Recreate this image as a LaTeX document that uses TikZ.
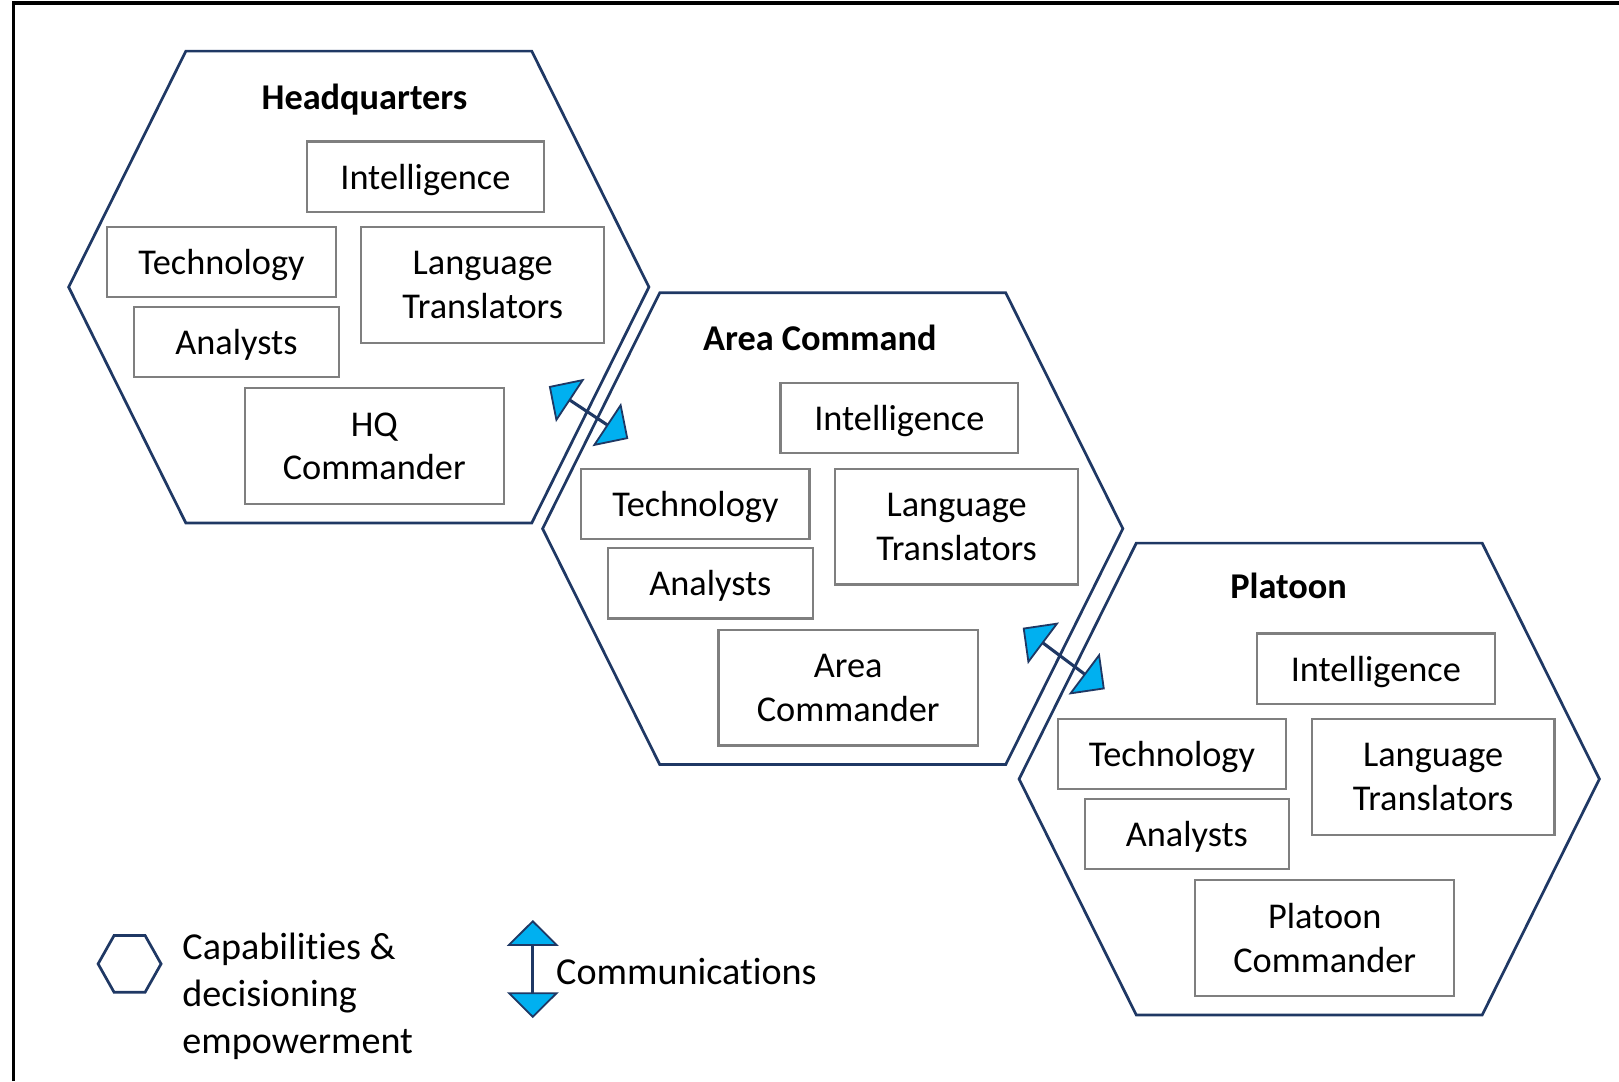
\documentclass[tikz,border=0pt]{standalone}
\usepackage{fontspec}
\setmainfont{Carlito}[Ligatures={NoCommon}]
\usepackage{tikz}
\usetikzlibrary{arrows.meta,positioning}
\definecolor{hexnavy}{HTML}{1F3864}
\definecolor{commblue}{HTML}{00B0F0}
\definecolor{boxgray}{HTML}{7F7F7F}
\tikzstyle{hexline}=[draw=hexnavy, line width=0.75pt]
\tikzstyle{capbox}=[rectangle, draw=boxgray, line width=0.6pt, align=center, inner sep=0pt, minimum height=0.68cm, text depth=0pt, font=\fontsize{10}{12}\selectfont]
\tikzstyle{capbox2}=[capbox, minimum height=1.12cm, text depth=-0.5pt]
\tikzstyle{celltitle}=[inner sep=0pt, font=\fontsize{10}{12}\selectfont\bfseries]
\tikzstyle{legtext}=[inner sep=0pt, align=left, font=\fontsize{10.5}{13}\selectfont]
\tikzstyle{comm}=[draw=hexnavy, line width=0.85pt, >={Triangle[length=0.25cm, width=0.5cm, fill=commblue, line width=0.5pt]}, <->]
\newcommand{\unitcell}[5]{
 \begin{scope}[shift={(#2)}]
  \coordinate (#1) at (0,0);
  \draw[hexline] (-281,0) -- (-167.5,-228.5) -- (167.5,-228.5) -- (281,0) -- (167.5,228.5) -- (-167.5,228.5) -- cycle;
  \node[celltitle] (#1-title) at (#4) {#3};
  \node[capbox, minimum width=2.30cm] (#1-int) at (64.5,-107) {Intelligence};
  \node[capbox, minimum width=2.21cm] (#1-tech) at (-133,-24) {Technology};
  \node[capbox2, minimum width=2.35cm] (#1-lang) at (120,-2) {Language\\Translators};
  \node[capbox, minimum width=1.98cm] (#1-ana) at (-118.5,53) {Analysts};
  \node[capbox2, minimum width=2.51cm] (#1-cmd) at (15,154) {#5};
  \coordinate (#1-out) at (184,96);
  \coordinate (#1-in) at (-198,-87);
 \end{scope}}

\begin{document}
\begin{tikzpicture}[x=0.01cm, y=-0.01cm]

\useasboundingbox (0,0) rectangle (1568,1047);
\draw[line width=0.9pt] (13,1047) -- (13,3) -- (1568,3);

\unitcell{hq}{347.5,278}{Headquarters}{5.5,-182}{HQ\\Commander}
\unitcell{area}{806.5,512}{Area Command}{-12.5,-185}{Area\\Commander}
\unitcell{plt}{1268,754.5}{Platoon}{-20,-187}{Platoon\\Commander}

\draw[comm] (hq-out) -- (area-in);
\draw[comm] (area-out) -- (plt-in);

%legend
\coordinate (leghex) at (125.5,933.5);
\draw[hexline] (leghex) ++(-30.5,0) -- ++(15.5,-27.5) -- ++(30,0) -- ++(15.5,27.5) -- ++(-15.5,27.5) -- ++(-30,0) -- cycle;
\node[legtext, anchor=west] (legcap) at (176,965) {Capabilities \&\\decisioning\\empowerment};
\coordinate (legtop) at (516,891);
\coordinate (legbot) at (516,986);
\draw[comm] (legtop) -- (legbot);
\node[legtext, anchor=west] (legcomm) at (538,941) {Communications};

\end{tikzpicture}
\end{document}
